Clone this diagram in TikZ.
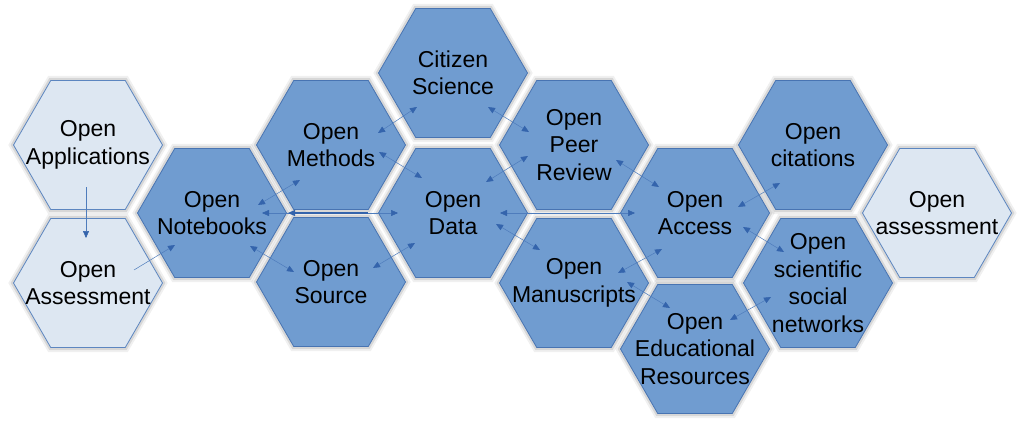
\documentclass[tikz,border=0pt]{standalone}
\usepackage{fontspec}
\setmainfont{Liberation Sans}
\usetikzlibrary{shapes.geometric,arrows.meta,calc}
\definecolor{hexfill}{RGB}{112,156,208}
\definecolor{hexline}{RGB}{72,116,178}
\definecolor{lightfill}{RGB}{221,231,242}
\definecolor{lightline}{RGB}{92,134,192}
\definecolor{arr}{RGB}{52,100,172}
\definecolor{arrline}{RGB}{78,124,188}
\begin{document}
\begin{tikzpicture}[x=1pt,y=-1pt,
  hexbase/.style={regular polygon, regular polygon sides=6, minimum size=149pt,
    inner sep=0pt, outer sep=0pt, line width=0.8pt,
    preaction={draw=black, line width=9pt, draw opacity=0.06},
    preaction={draw=black, line width=5pt, draw opacity=0.10}},
  darkhex/.style={hexbase, fill=hexfill, draw=hexline},
  lighthex/.style={hexbase, fill=lightfill, draw=lightline},
  lbl/.style={align=center, font=\fontsize{23}{27.5}\selectfont, inner sep=0pt, text=black},
  tip/.tip={Triangle[length=7pt,width=6pt,color=arr]},
  con/.style={draw=arrline, line width=0.5pt, tip-tip},
  one/.style={draw=arrline, line width=0.5pt, -tip},
]
\useasboundingbox (0,0) rectangle (1024,422);
\fill[white] (0,0) rectangle (1024,422);

% hexagons
\node[lighthex] (apps)   at (88,145)  {};
\node[lighthex] (assess) at (88,283)  {};
\node[darkhex]  (nb)     at (212,213) {};
\node[darkhex]  (meth)   at (331,145) {};
\node[darkhex]  (src)    at (331,282) {};
\node[darkhex]  (cit)    at (453,73)  {};
\node[darkhex]  (data)   at (453,213) {};
\node[darkhex]  (peer)   at (574,145) {};
\node[darkhex]  (manu)   at (574,283) {};
\node[darkhex]  (acc)    at (695,213) {};
\node[darkhex]  (edu)    at (695,349) {};
\node[darkhex]  (ocit)   at (813,145) {};
\node[darkhex]  (soc)    at (818,283) {};
\node[lighthex] (oass)   at (937,213) {};

% labels
\node[lbl] (apps-t)   at (apps)   {Open\\Applications};
\node[lbl] (assess-t) at (assess) {Open\\Assessment};
\node[lbl] (nb-t)     at (nb)     {Open\\Notebooks};
\node[lbl] (meth-t)   at (meth)   {Open\\Methods};
\node[lbl] (src-t)    at (src)    {Open\\Source};
\node[lbl] (cit-t)    at (cit)    {Citizen\\Science};
\node[lbl] (data-t)   at (data)   {Open\\Data};
\node[lbl] (peer-t)   at (peer)   {Open\\Peer\\Review};
\node[lbl] (manu-t)   at (manu)   {Open\\Manuscripts};
\node[lbl] (acc-t)    at (acc)    {Open\\Access};
\node[lbl] (edu-t)    at (edu)    {Open\\Educational\\Resources};
\node[lbl] (ocit-t)   at (ocit)   {Open\\citations};
\node[lbl] (soc-t)    at (soc)    {Open\\scientific\\social\\networks};
\node[lbl] (oass-t)   at (oass)   {Open\\assessment};

% connectors
\draw[one] ($(apps)+(-2,42)$) -- ($(assess)+(-2,-45)$);
\draw[one] ($(assess)+(46,-13)$) -- ($(nb)+(-37,32)$);
\draw[con] ($(nb)+(46,-8)$) -- ($(meth)+(-31,35)$);
\draw[con] ($(nb)+(38,33)$) -- ($(src)+(-37,-10)$);
\draw[con] ($(nb)+(50,0)$) -- ($(data)+(-55,0)$);
\draw[one, draw=arr, line width=1.1pt] ($(data)+(-85,0)$) -- ($(nb)+(76,0)$);
\draw[con] ($(meth)+(47,-12)$) -- ($(cit)+(-36,34)$);
\draw[con] ($(meth)+(48,7)$) -- ($(data)+(-31,-35)$);
\draw[con] ($(cit)+(35,34)$) -- ($(peer)+(-45,-13)$);
\draw[con] ($(data)+(33,-31)$) -- ($(peer)+(-46,11)$);
\draw[con] ($(src)+(42,-14)$) -- ($(data)+(-38,30)$);
\draw[con] ($(data)+(47,0)$) -- ($(acc)+(-60,0)$);
\draw[con] ($(data)+(43,11)$) -- ($(manu)+(-34,-33)$);
\draw[con] ($(peer)+(42,15)$) -- ($(acc)+(-36,-26)$);
\draw[con] ($(manu)+(44,-10)$) -- ($(acc)+(-33,36)$);
\draw[con] ($(manu)+(53,-1)$) -- ($(edu)+(-25,-41)$);
\draw[con] ($(acc)+(43,-6)$) -- ($(ocit)+(-33,38)$);
\draw[con] ($(acc)+(48,14)$) -- ($(soc)+(-34,-31)$);
\draw[con] ($(edu)+(35,-29)$) -- ($(soc)+(-47,14)$);
\end{tikzpicture}
\end{document}
